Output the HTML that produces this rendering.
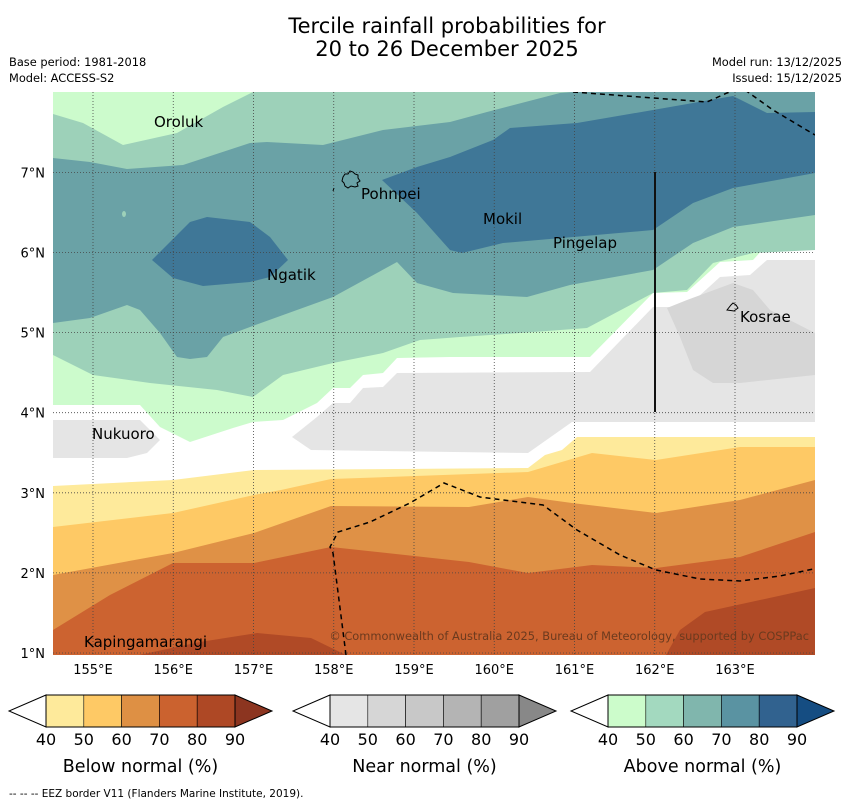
<!DOCTYPE html>
<html><head><meta charset="utf-8">
<style>
body{margin:0;background:#fff;width:850px;height:804px;overflow:hidden;font-family:"DejaVu Sans","Liberation Sans",sans-serif;}
svg text{font-family:"DejaVu Sans","Liberation Sans",sans-serif;}
</style></head><body>
<svg id="fig" width="850" height="804" viewBox="0 0 850 804" xmlns="http://www.w3.org/2000/svg">
<text x="447" y="33" font-size="21" text-anchor="middle">Tercile rainfall probabilities for</text>
<text x="447" y="56" font-size="21" text-anchor="middle">20 to 26 December 2025</text>
<text x="9" y="66" font-size="11.4">Base period: 1981-2018</text>
<text x="9" y="82" font-size="11.4">Model: ACCESS-S2</text>
<text x="842" y="66" font-size="11.4" text-anchor="end">Model run: 13/12/2025</text>
<text x="842" y="82" font-size="11.4" text-anchor="end">Issued: 15/12/2025</text>

<defs><clipPath id="mapclip"><rect x="53" y="92" width="762" height="563"/></clipPath></defs>
<g clip-path="url(#mapclip)">
<rect x="53" y="92" width="762" height="563" fill="#fff"/>
<path fill="#ccfbcc" d="M53,92 L815,92 L815,245 L767,245 L753,260 L720,262 L687,292 L653,293 L590,357 L450,357 L397,358 L383,373 L363,375 L350,388 L333,388 L317,403 L283,420 L253,422 L233,428 L190,442 L160,427 L140,405 L53,405 Z"/>
<path fill="#9dd1b9" d="M53,92 L815,92 L815,250 L753,253 L713,263 L687,290 L653,293 L587,328 L520,333 L460,337 L420,340 L383,353 L333,363 L283,375 L253,397 L217,390 L150,383 L93,375 L53,355 Z"/>
<path fill="#ccfbcc" d="M53,92 L253,92 L223,107 L177,133 L123,145 L83,123 L53,114 Z"/>
<path fill="#6aa2a6" d="M53,158 L90,162 L127,169 L183,165 L250,143 L267,142 L323,145 L383,130 L450,122 L487,112 L560,93 L573,92 L815,92 L815,215 L733,227 L693,243 L653,270 L570,285 L527,297 L453,293 L417,283 L397,262 L333,297 L250,327 L223,337 L207,357 L190,359 L177,357 L160,333 L140,310 L127,305 L90,318 L53,323 Z"/>
<path fill="#3f7797" d="M382,180 L417,167 L450,157 L493,140 L510,128 L577,123 L653,110 L733,96 L767,113 L815,112 L815,173 L733,188 L693,203 L653,230 L573,237 L503,243 L462,253 L450,250 L417,213 Z"/>
<path fill="#3f7797" d="M152,260 L190,222 L207,217 L250,222 L270,237 L288,260 L270,277 L250,282 L203,286 L173,278 Z"/>
<ellipse cx="124" cy="214" rx="2" ry="3" fill="#9dd1b9"/>
<path fill="#e5e5e5" d="M53,420 L140,420 L160,440 L147,453 L127,458 L53,458 Z"/>
<path fill="#e5e5e5" d="M292,437 L317,417 L333,403 L350,403 L363,388 L383,387 L397,373 L590,372 L653,307 L687,307 L720,277 L750,275 L767,260 L815,260 L815,422 L572,422 L528,453 L311,450 Z"/>
<path fill="#d6d6d6" d="M667,308 L687,300 L733,283 L753,290 L770,310 L815,333 L815,375 L740,383 L713,383 L693,370 L680,337 Z"/>
<path fill="#feea9b" d="M53,486 L173,480 L254,470 L528,468 L545,455 L562,450 L577,437 L815,437 L815,655 L53,655 Z"/>
<path fill="#fec965" d="M53,527 L173,513 L254,495 L281,490 L331,479 L528,472 L592,453 L656,460 L740,447 L815,447 L815,655 L53,655 Z"/>
<path fill="#df9146" d="M53,575 L173,553 L254,533 L331,506 L469,507 L528,497 L572,503 L656,513 L740,500 L815,480 L815,655 L53,655 Z"/>
<path fill="#cc6330" d="M53,630 L110,595 L173,563 L254,563 L331,547 L469,562 L528,573 L592,565 L656,568 L740,557 L815,532 L815,655 L53,655 Z"/>
<path fill="#b04a26" d="M139,655 L200,642 L257,633 L311,638 L346,655 Z"/>
<path fill="#b04a26" d="M666,655 L680,630 L705,612 L760,600 L815,588 L815,655 Z"/>
<g id="grid" stroke="#444" stroke-width="0.8" stroke-dasharray="1,2" fill="none"></g>
<path fill="none" stroke="#000" stroke-width="1.5" stroke-dasharray="5,4" d="M346,655 L333,553 L330,547 L338,532 L370,522 L410,503 L444,483 L480,497 L543,505 L577,530 L620,555 L656,570 L700,579 L740,581 L780,576 L818,568"/>
<path fill="none" stroke="#000" stroke-width="1.5" stroke-dasharray="5,4" d="M573,92 L707,102 L727,93 L735,90 M745,90 L773,110 L815,135"/>
<line x1="655" y1="172" x2="655" y2="412" stroke="#111" stroke-width="2"/>
<path fill="none" stroke="#000" stroke-width="1" d="M343,177 L345,174 L348,174 L350,171 L353,172 L355,174 L358,175 L358,178 L360,181 L357,183 L358,186 L355,187 L351,186 L348,188 L345,186 L344,183 L342,181 Z"/>
<path d="M334,188 L333,191" stroke="#000" stroke-width="1"/>
<path fill="none" stroke="#000" stroke-width="1" d="M727,310 L731,305 L733,303 L736,305 L738,308 L734,311 Z"/>
<g font-size="15" fill="#000">
<text x="154" y="127">Oroluk</text>
<text x="361" y="199">Pohnpei</text>
<text x="483" y="224">Mokil</text>
<text x="553" y="248">Pingelap</text>
<text x="267" y="280">Ngatik</text>
<text x="740" y="322">Kosrae</text>
<text x="92" y="439">Nukuoro</text>
<text x="84" y="647">Kapingamarangi</text>
</g>
<text x="809" y="640" font-size="11.4" fill="#6b3a1e" text-anchor="end">© Commonwealth of Australia 2025, Bureau of Meteorology, supported by COSPPac</text>
</g>
<g id="axes" font-size="13"></g>
<g id="colorbars"></g>
<text x="9" y="797" font-size="10.5">--  --  -- EEZ border V11 (Flanders Marine Institute, 2019).</text>
</svg>
<script>
const lonTicks=[155,156,157,158,159,160,161,162,163];
const latTicks=[1,2,3,4,5,6,7];
const cbLevels=[40,50,60,70,80,90];
const belowColors=["#fff","#feea9b","#fec965","#de9044","#cb622f","#ae4825","#8c3520"];
const nearColors=["#fff","#e5e5e5","#d6d6d6","#c8c8c8","#b4b4b4","#a0a0a0","#888888"];
const aboveColors=["#fff","#ccfccb","#a3d9bf","#80b6ad","#5a93a2","#31628f","#154d82"];
const cbTitles=["Below normal (%)","Near normal (%)","Above normal (%)"];
const NS="http://www.w3.org/2000/svg";
const xLon=l=>93+(l-155)*80.25;
const yLat=l=>653-(l-1)*80.1;
function mk(t,a,p){const e=document.createElementNS(NS,t);for(const k in a)e.setAttribute(k,a[k]);p.appendChild(e);return e;}
const grid=document.getElementById('grid'),axes=document.getElementById('axes');
lonTicks.forEach(l=>{
 const ln=mk('line',{x1:xLon(l),x2:xLon(l),y1:92,y2:655},grid);
 
 
 const t=mk('text',{x:xLon(l),y:674,'text-anchor':'middle'},axes);t.textContent=l+'°E';
 
 
});
latTicks.forEach(l=>{
 const ln=mk('line',{x1:53,x2:815,y1:yLat(l),y2:yLat(l)},grid);
 
 
 const t=mk('text',{x:45,y:yLat(l)+5,'text-anchor':'end'},axes);t.textContent=l+'°N';
 
 
});
const cb=document.getElementById('colorbars');
const cbX=[46,330,608],cbW=189,y0=695,h=32;
[belowColors,nearColors,aboveColors].forEach((cols,i)=>{
 const x0=cbX[i],bw=cbW/(cbLevels.length-1);
 const g=mk('g',{},cb);
 
 
 const lt=mk('polygon',{points:`${x0},${y0} ${x0-37},${y0+h/2} ${x0},${y0+h}`,fill:cols[0],stroke:'#000','stroke-width':1},g);
 
 
 for(let k=0;k<cbLevels.length-1;k++){
  const r=mk('rect',{x:x0+k*bw,y:y0,width:bw,height:h,fill:cols[k+1],stroke:'#000','stroke-width':0.6},g);
  
  
 }
 const rt=mk('polygon',{points:`${x0+cbW},${y0} ${x0+cbW+37},${y0+h/2} ${x0+cbW},${y0+h}`,fill:cols[6],stroke:'#000','stroke-width':1},g);
 
 
 mk('rect',{x:x0,y:y0,width:cbW,height:h,fill:'none',stroke:'#000','stroke-width':1},g);
 cbLevels.forEach((v,k)=>{
  const t=mk('text',{x:x0+k*bw,y:745,'font-size':16,'text-anchor':'middle'},g);t.textContent=v;
  
  
 });
 const tt=mk('text',{x:x0+cbW/2,y:772,'font-size':17.5,'text-anchor':'middle'},g);tt.textContent=cbTitles[i];
 
 
});
</script>
</body></html>
